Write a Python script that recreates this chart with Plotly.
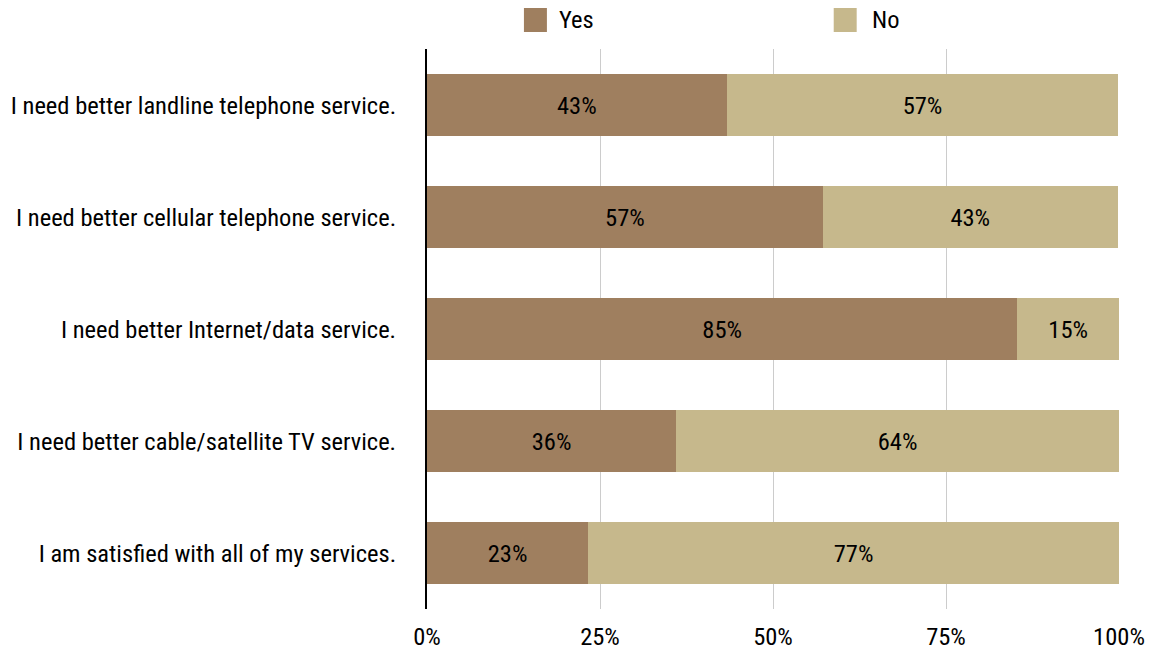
import plotly.graph_objects as go

categories = [
    "I need better landline telephone service.",
    "I need better cellular telephone service.",
    "I need better Internet/data service.",
    "I need better cable/satellite TV service.",
    "I am satisfied with all of my services.",
]
yes_values = [43.3, 57.2, 85.3, 36.0, 23.3]
no_values = [56.6, 42.6, 14.7, 64.0, 76.7]
series_names = ["Yes", "No"]
tick_values = [0, 25, 50, 75, 100]
tick_labels = ["0%", "25%", "50%", "75%", "100%"]

FONT = "Liberation Sans Narrow, Arial Narrow, Roboto Condensed, sans-serif"
FS = 24.5
YES_COLOR = "#9F7F5F"
NO_COLOR = "#C6B88C"

fig = go.Figure()
for name, vals, color in [(series_names[0], yes_values, YES_COLOR), (series_names[1], no_values, NO_COLOR)]:
    fig.add_trace(go.Bar(
        y=categories, x=vals, name=name, orientation="h",
        marker=dict(color=color, line=dict(width=0)),
        texttemplate="%{x:.0f}%", textposition="inside", insidetextanchor="middle",
        textfont=dict(family=FONT, size=FS, color="#000000"),
        showlegend=False, hoverinfo="skip",
    ))

L, R, T, B = 427, 32.5, 49, 42
fig.update_layout(
    width=1152, height=651,
    margin=dict(l=L, r=R, t=T, b=B, autoexpand=False),
    barmode="stack", bargap=0.446,
    plot_bgcolor="white", paper_bgcolor="white",
    font=dict(family=FONT, size=FS, color="#000000"),
    xaxis=dict(range=[0, 100], tickvals=tick_values, ticktext=tick_labels,
               showgrid=True, gridcolor="#CCCCCC", gridwidth=1, zeroline=False,
               showline=False, ticklabelstandoff=10, fixedrange=True, automargin=False),
    yaxis=dict(categoryorder="array", categoryarray=categories, autorange="reversed",
               showline=True, linecolor="#000000", linewidth=2, showgrid=False,
               ticks="", ticklabelstandoff=24, fixedrange=True, automargin=False),
)

# manual legend
pw = 1152 - L - R
ph = 651 - T - B
def px(x):
    return (x - L) / pw
def py(y):
    return (651 - B - y) / ph

for name, color, sx, tx in [(series_names[0], YES_COLOR, 524, 557), (series_names[1], NO_COLOR, 834, 870)]:
    fig.add_shape(type="rect", xref="paper", yref="paper",
                  x0=px(sx), x1=px(sx + 23), y0=py(32), y1=py(8),
                  fillcolor=color, line=dict(width=0))
    fig.add_annotation(xref="paper", yref="paper", x=px(tx), y=py(20),
                       text=name, showarrow=False, xanchor="left", yanchor="middle",
                       font=dict(family=FONT, size=FS, color="#000000"))

fig.write_html(
    "out.html",
    config={"displayModeBar": False},
    post_script="document.body.style.margin='0';document.body.style.overflow='hidden';",
)
